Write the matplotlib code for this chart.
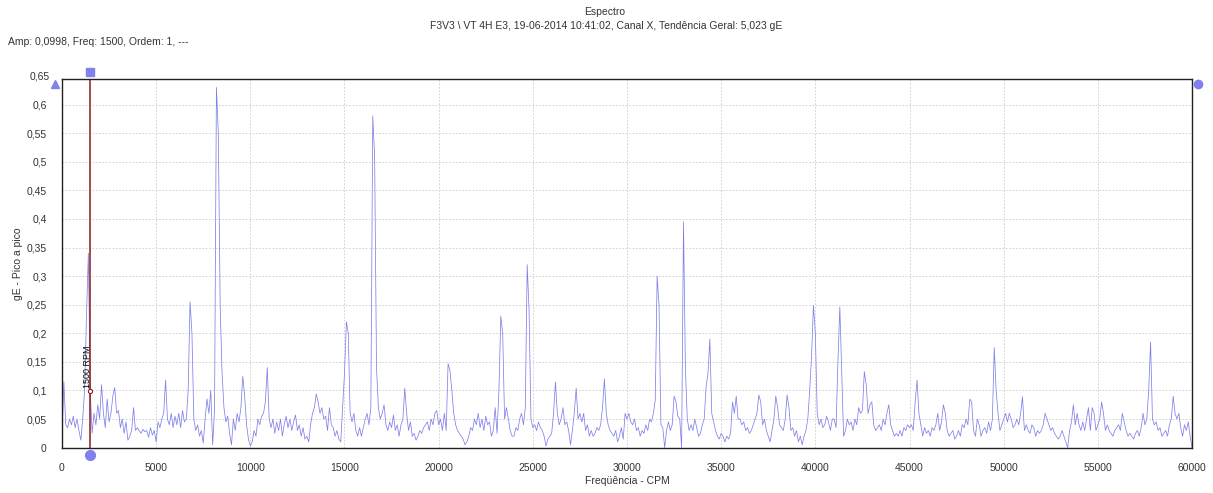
import matplotlib
matplotlib.use("Agg")
import matplotlib.pyplot as plt
import numpy as np
from matplotlib.ticker import FixedLocator

plt.rcParams['font.family'] = ['Liberation Sans', 'DejaVu Sans']

# spectrum amplitudes (gE peak-to-peak), one value every 100 CPM, one row per 1000 CPM
amp_rows = [
    [0.02, 0.115, 0.04, 0.035, 0.05, 0.04, 0.055, 0.035, 0.05, 0.03],        # 0
    [0.013, 0.05, 0.1, 0.23, 0.34, 0.0998, 0.025, 0.06, 0.04, 0.075],        # 1000
    [0.05, 0.11, 0.06, 0.035, 0.085, 0.045, 0.06, 0.09, 0.105, 0.06],        # 2000
    [0.065, 0.035, 0.05, 0.025, 0.045, 0.013, 0.02, 0.03, 0.07, 0.03],       # 3000
    [0.035, 0.03, 0.025, 0.032, 0.028, 0.03, 0.018, 0.035, 0.022, 0.03],     # 4000
    [0.01, 0.045, 0.035, 0.05, 0.06, 0.118, 0.05, 0.04, 0.06, 0.035],        # 5000
    [0.055, 0.04, 0.06, 0.035, 0.065, 0.045, 0.05, 0.1, 0.255, 0.2],        # 6000
    [0.05, 0.03, 0.04, 0.02, 0.03, 0.008, 0.05, 0.085, 0.06, 0.1],           # 7000
    [0.005, 0.065, 0.63, 0.55, 0.246, 0.13, 0.07, 0.045, 0.055, 0.025],      # 8000
    [0.005, 0.05, 0.03, 0.06, 0.045, 0.07, 0.125, 0.09, 0.04, 0.015],        # 9000
    [0.003, 0.01, 0.03, 0.02, 0.05, 0.04, 0.055, 0.06, 0.08, 0.14],          # 10000
    [0.05, 0.035, 0.05, 0.025, 0.045, 0.03, 0.05, 0.02, 0.04, 0.055],        # 11000
    [0.035, 0.05, 0.03, 0.045, 0.057, 0.03, 0.04, 0.02, 0.035, 0.015],       # 12000
    [0.02, 0.01, 0.04, 0.06, 0.07, 0.094, 0.08, 0.06, 0.07, 0.05],           # 13000
    [0.055, 0.03, 0.07, 0.04, 0.035, 0.02, 0.03, 0.015, 0.01, 0.07],         # 14000
    [0.13, 0.22, 0.2, 0.06, 0.045, 0.06, 0.03, 0.02, 0.035, 0.02],           # 15000
    [0.035, 0.05, 0.06, 0.04, 0.07, 0.58, 0.51, 0.14, 0.07, 0.05],           # 16000
    [0.06, 0.075, 0.04, 0.03, 0.045, 0.035, 0.057, 0.03, 0.04, 0.02],        # 17000
    [0.04, 0.05, 0.104, 0.06, 0.03, 0.045, 0.02, 0.025, 0.013, 0.02],        # 18000
    [0.03, 0.025, 0.035, 0.04, 0.045, 0.03, 0.05, 0.04, 0.06, 0.065],        # 19000
    [0.04, 0.05, 0.03, 0.06, 0.03, 0.147, 0.135, 0.1, 0.06, 0.04],           # 20000
    [0.03, 0.025, 0.02, 0.015, 0.005, 0.01, 0.02, 0.035, 0.03, 0.05],        # 21000
    [0.04, 0.06, 0.035, 0.05, 0.03, 0.055, 0.04, 0.045, 0.02, 0.03],         # 22000
    [0.07, 0.025, 0.1, 0.23, 0.2, 0.05, 0.07, 0.05, 0.03, 0.02],             # 23000
    [0.02, 0.035, 0.03, 0.05, 0.06, 0.04, 0.07, 0.32, 0.24, 0.05],           # 24000
    [0.035, 0.04, 0.03, 0.045, 0.035, 0.03, 0.02, 0.003, 0.015, 0.02],       # 25000
    [0.025, 0.06, 0.115, 0.06, 0.04, 0.05, 0.07, 0.04, 0.045, 0.03],         # 26000
    [0.005, 0.03, 0.06, 0.104, 0.05, 0.06, 0.045, 0.06, 0.03, 0.04],         # 27000
    [0.02, 0.03, 0.02, 0.025, 0.035, 0.03, 0.04, 0.07, 0.12, 0.06],          # 28000
    [0.04, 0.03, 0.025, 0.02, 0.03, 0.01, 0.02, 0.035, 0.015, 0.06],         # 29000
    [0.05, 0.06, 0.045, 0.04, 0.05, 0.03, 0.035, 0.02, 0.03, 0.025],         # 30000
    [0.04, 0.03, 0.05, 0.045, 0.06, 0.083, 0.3, 0.25, 0.04, 0.035],          # 31000
    [0.0, 0.03, 0.045, 0.03, 0.04, 0.09, 0.08, 0.055, 0.05, 0.0],            # 32000
    [0.395, 0.14, 0.05, 0.03, 0.04, 0.03, 0.05, 0.035, 0.02, 0.025],         # 33000
    [0.04, 0.05, 0.107, 0.13, 0.19, 0.06, 0.045, 0.03, 0.02, 0.015],         # 34000
    [0.025, 0.02, 0.01, 0.02, 0.015, 0.025, 0.08, 0.06, 0.09, 0.05],         # 35000
    [0.05, 0.04, 0.045, 0.03, 0.035, 0.025, 0.03, 0.04, 0.05, 0.06],         # 36000
    [0.092, 0.08, 0.04, 0.05, 0.03, 0.02, 0.01, 0.03, 0.05, 0.09],           # 37000
    [0.07, 0.04, 0.035, 0.03, 0.05, 0.092, 0.07, 0.03, 0.035, 0.02],         # 38000
    [0.03, 0.01, 0.02, 0.005, 0.02, 0.03, 0.05, 0.1, 0.16, 0.249],           # 39000
    [0.2, 0.06, 0.04, 0.05, 0.035, 0.04, 0.055, 0.045, 0.03, 0.05],          # 40000
    [0.05, 0.035, 0.15, 0.246, 0.13, 0.02, 0.03, 0.05, 0.04, 0.045],         # 41000
    [0.03, 0.05, 0.04, 0.07, 0.06, 0.065, 0.133, 0.11, 0.06, 0.075],         # 42000
    [0.08, 0.04, 0.03, 0.035, 0.04, 0.03, 0.05, 0.04, 0.06, 0.075],          # 43000
    [0.04, 0.03, 0.02, 0.025, 0.02, 0.03, 0.02, 0.035, 0.03, 0.04],          # 44000
    [0.035, 0.04, 0.03, 0.08, 0.118, 0.06, 0.04, 0.02, 0.035, 0.025],        # 45000
    [0.03, 0.02, 0.035, 0.03, 0.04, 0.06, 0.03, 0.045, 0.075, 0.06],         # 46000
    [0.03, 0.02, 0.025, 0.03, 0.015, 0.02, 0.03, 0.02, 0.04, 0.035],         # 47000
    [0.05, 0.04, 0.085, 0.08, 0.03, 0.02, 0.05, 0.04, 0.02, 0.03],           # 48000
    [0.035, 0.025, 0.045, 0.03, 0.05, 0.175, 0.1, 0.06, 0.03, 0.04],         # 49000
    [0.05, 0.06, 0.045, 0.06, 0.05, 0.035, 0.04, 0.05, 0.04, 0.06],          # 50000
    [0.089, 0.03, 0.04, 0.03, 0.025, 0.04, 0.035, 0.02, 0.03, 0.025],        # 51000
    [0.03, 0.04, 0.06, 0.05, 0.04, 0.03, 0.035, 0.025, 0.02, 0.015],         # 52000
    [0.02, 0.03, 0.02, 0.01, 0.0, 0.03, 0.045, 0.075, 0.04, 0.06],           # 53000
    [0.04, 0.03, 0.045, 0.03, 0.05, 0.07, 0.03, 0.07, 0.06, 0.03],           # 54000
    [0.04, 0.05, 0.08, 0.06, 0.03, 0.04, 0.03, 0.025, 0.02, 0.03],           # 55000
    [0.035, 0.04, 0.03, 0.06, 0.045, 0.03, 0.02, 0.025, 0.02, 0.015],        # 56000
    [0.025, 0.03, 0.02, 0.035, 0.06, 0.04, 0.05, 0.1, 0.185, 0.05],          # 57000
    [0.04, 0.045, 0.03, 0.035, 0.02, 0.025, 0.03, 0.02, 0.04, 0.05],         # 58000
    [0.09, 0.06, 0.05, 0.06, 0.035, 0.02, 0.04, 0.03, 0.045, 0.02],          # 59000
]
amp_end = [0.0]  # 60000 CPM
freq_step = 100

xticks = [0, 5000, 10000, 15000, 20000, 25000, 30000, 35000, 40000, 45000, 50000, 55000, 60000]
yticks = [0, 0.05, 0.1, 0.15, 0.2, 0.25, 0.3, 0.35, 0.4, 0.45, 0.5, 0.55, 0.6, 0.65]
ytick_labels = ['0', '0,05', '0,1', '0,15', '0,2', '0,25', '0,3', '0,35', '0,4',
                '0,45', '0,5', '0,55', '0,6', '0,65']

cursor_freq = 1500
cursor_amp = 0.0998

amps = np.array([v for row in amp_rows for v in row] + amp_end)
freqs = np.arange(len(amps)) * freq_step

fig = plt.figure(figsize=(12.13, 4.93), dpi=100)
ax = fig.add_axes([0.0511, 0.092, 0.9316, 0.748])

ax.plot(freqs, amps, color='#8080ea', lw=0.55)

ax.set_xlim(0, 60000)
ax.set_ylim(0, 0.645)
ax.xaxis.set_major_locator(FixedLocator(xticks))
ax.set_xticklabels([str(t) for t in xticks])
ax.yaxis.set_major_locator(FixedLocator(yticks[:-1]))
ax.set_yticklabels(ytick_labels[:-1])
ax.tick_params(length=0, labelsize=7.5, colors='#333333', pad=11)
ax.grid(True, color='#cccccc', ls=(0, (2, 2)), lw=0.6)
for s in ax.spines.values():
    s.set_color('#222222')
    s.set_linewidth(1.0)

# top tick label sits at the frame edge
ax.text(-0.011, 0.65, ytick_labels[-1], transform=ax.get_yaxis_transform(),
        ha='right', va='center', fontsize=7.5, color='#333333', clip_on=False)

ax.set_xlabel('Freqüência - CPM', fontsize=7.5, color='#333333', labelpad=2)
ax.set_ylabel('gE - Pico a pico', fontsize=7.5, color='#333333')
ax.yaxis.set_label_coords(-0.0345, 0.5)

# cursor
ax.axvline(cursor_freq, color='#8b1a1a', lw=1.1)
ax.plot([cursor_freq], [cursor_amp], 'o', ms=3, mfc='white', mec='#8b1a1a', mew=0.8)
ax.text(cursor_freq - 150, cursor_amp + 0.005, '1500 RPM', rotation=90,
        fontsize=6.5, ha='center', va='bottom', color='black')
mk = '#8080ee'
ax.plot([cursor_freq], [1.018], 's', ms=6, color=mk, transform=ax.get_xaxis_transform(), clip_on=False)
ax.plot([cursor_freq], [-0.02], 'o', ms=7, color=mk, transform=ax.get_xaxis_transform(), clip_on=False)
ax.plot([-0.006], [0.985], '^', ms=6, color=mk, transform=ax.transAxes, clip_on=False)
ax.plot([1.005], [0.985], 'o', ms=6, color=mk, transform=ax.transAxes, clip_on=False)

fig.text(0.4985, 0.976, 'Espectro', ha='center', va='center', fontsize=7.5, color='#333333')
fig.text(0.5, 0.947, 'F3V3 \\ VT 4H E3, 19-06-2014 10:41:02, Canal X, Tendência Geral: 5,023 gE',
         ha='center', va='center', fontsize=7.5, color='#333333')
fig.text(0.007, 0.915, 'Amp: 0,0998, Freq: 1500, Ordem: 1, ---', ha='left', va='center',
         fontsize=7.5, color='#333333')

fig.savefig('out.png', dpi=100)
